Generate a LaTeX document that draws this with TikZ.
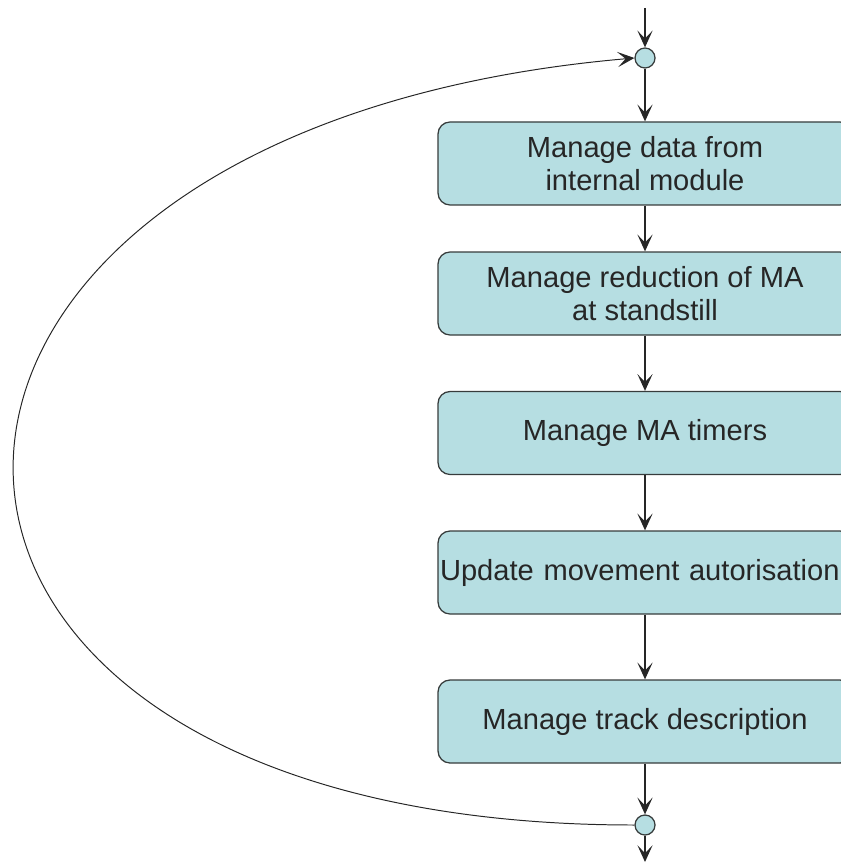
\documentclass[tikz,border=0pt]{standalone}
\usepackage{fontspec}
\setmainfont{Liberation Sans}
\usetikzlibrary{shapes.geometric, arrows.meta}

\definecolor{boxfill}{RGB}{182,222,226}
\definecolor{edgegray}{RGB}{55,60,60}

\begin{document}
\begin{tikzpicture}[node distance=3.25cm]
        \tikzstyle{process} = [rectangle, rounded corners=0.3cm, minimum width=10.35cm, minimum height=2.075cm, inner xsep=0pt, align=center, draw=edgegray, line width=0.9pt, fill=boxfill, text=black!85, font=\fontsize{20.7}{23.4}\selectfont]
        \tikzstyle{junction} = [circle, minimum size=0.5cm, inner sep=0pt, draw=edgegray, line width=0.9pt, fill=boxfill]
        \tikzstyle{arrow} = [line width=0.9pt, black!85, ->, >={Stealth[length=0.42cm, width=0.38cm, inset=0.2cm]}]
        \tikzstyle{loopback} = [arrow, line width=0.7pt]

        \useasboundingbox (0,0) rectangle (21,-21.6);

        \coordinate (in) at (16.125,-0.2);
        \node (merge) [junction] at (16.125,-1.45) {};
        \node (data) [process, below of=merge, yshift=0.6125cm] {Manage data from\\internal module};
        \node (reduce) [process, below of=data] {Manage reduction of MA\\at standstill};
        \node (timers) [process, below of=reduce, yshift=-0.2375cm] {Manage MA timers};
        \node (update) [process, below of=timers, yshift=-0.2375cm, text width=10.25cm, align=left] {Update movement autorisation};
        \node (track) [process, below of=update, yshift=-0.475cm] {Manage track description};
        \node (split) [junction, below of=track, yshift=0.6625cm] {};
        \coordinate (out) at (16.125,-21.55);

        \draw [arrow] (in) -- (merge);
        \draw [arrow] (merge) -- (data);
        \draw [arrow] (data) -- (reduce);
        \draw [arrow] (reduce) -- (timers);
        \draw [arrow] (timers) -- (update);
        \draw [arrow] (update) -- (track);
        \draw [arrow] (track) -- (split);
        \draw [arrow] (split) -- (out);
        \draw [loopback] (split.west) to[out=180, in=185, looseness=2.77] (merge.west);
    \end{tikzpicture}
\end{document}
